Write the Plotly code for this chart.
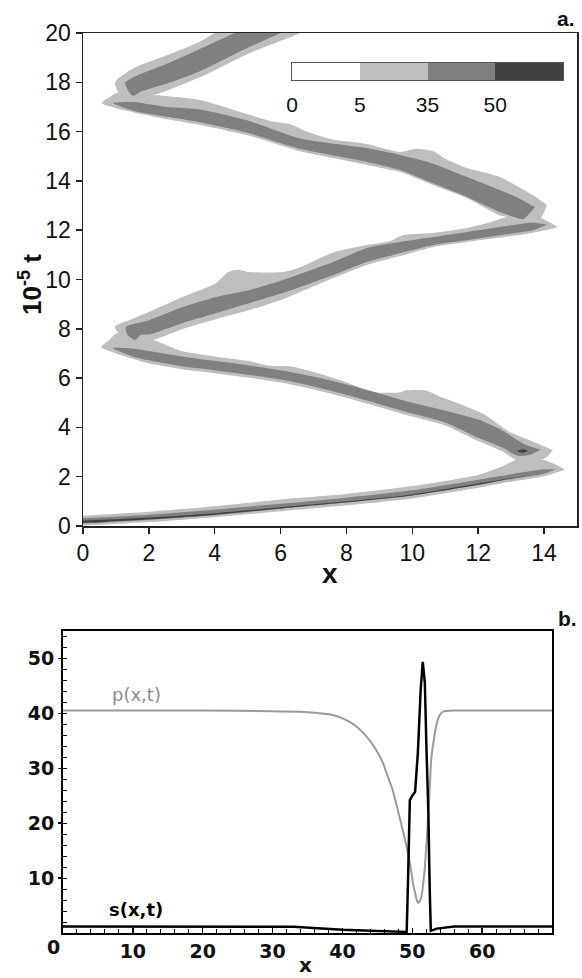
import plotly.graph_objects as go

W, H = 582, 978

# ---------------- Panel a: contour bands (x, 10^-5 t) ----------------
# each band is an outline: upper edge (x, t) and lower edge (x, t), left tip to right tip
band1_light_up = [(-0.5, 0.42), (0, 0.42), (2, 0.58), (4, 0.8), (6, 1.08), (8, 1.3), (10, 1.62), (12, 2.07),
                  (12.7, 2.4), (13.15, 2.68), (13.6, 2.72), (14.0, 2.68), (14.35, 2.5), (14.65, 2.28)]
band1_light_lo = [(-0.5, 0.02), (0, 0.02), (2, 0.16), (4, 0.36), (6, 0.6), (8, 0.84), (10, 1.12), (12, 1.55),
                  (13, 1.8), (14, 2.02), (14.65, 2.28)]
band1_dark_up = [(-0.5, 0.32), (0, 0.32), (2, 0.46), (4, 0.66), (6, 0.9), (8, 1.15), (10, 1.45), (12, 1.88),
                 (13, 2.1), (14, 2.3), (14.35, 2.3)]
band1_dark_lo = [(-0.5, 0.1), (0, 0.1), (2, 0.25), (4, 0.44), (6, 0.7), (8, 0.95), (10, 1.24), (12, 1.66),
                 (13, 1.9), (14, 2.12), (14.35, 2.3)]
band1_core_up = [(-0.5, 0.22), (0, 0.22), (2, 0.34), (4, 0.52), (6, 0.76), (8, 1.0), (10, 1.28), (12, 1.72), (13.5, 2.05)]
band1_core_lo = [(-0.5, 0.12), (0, 0.12), (2, 0.27), (4, 0.46), (6, 0.71), (8, 0.96), (10, 1.24), (12, 1.67), (13.5, 2.05)]

band2_light_up = [(0.55, 7.26), (0.8, 7.55), (1.05, 7.85), (1.5, 7.7), (2.13, 7.55), (3.0, 7.1), (4.0, 6.88),
                  (5.0, 6.7), (5.68, 6.5), (6.29, 6.48), (7.08, 6.22), (7.9, 5.88), (8.4, 5.62), (8.9, 5.42),
                  (9.6, 5.42), (9.8, 5.5), (10.4, 5.5), (10.93, 5.2), (11.63, 4.85), (12.15, 4.55),
                  (12.97, 3.8), (13.67, 3.42), (14.27, 3.08)]
band2_light_lo = [(0.55, 7.26), (1.0, 7.0), (2.0, 6.6), (3.0, 6.36), (4.0, 6.2), (5.0, 6.02), (6.0, 5.82),
                  (7.0, 5.54), (8.0, 5.2), (9.0, 4.82), (10.0, 4.44), (11.0, 4.08), (12.0, 3.45), (12.7, 3.05),
                  (13.15, 2.68), (13.6, 2.6), (14.05, 2.76), (14.27, 3.08)]
band2_dark_up = [(0.9, 7.22), (1.5, 7.2), (2.0, 7.1), (3.0, 6.88), (4.0, 6.7), (5.0, 6.52), (6.0, 6.32),
                 (7.0, 6.06), (8.0, 5.74), (9.0, 5.38), (10.0, 5.0), (11.0, 4.68), (12.0, 4.32), (12.7, 3.9),
                 (13.4, 3.32), (13.9, 3.1)]
band2_dark_lo = [(0.9, 7.22), (1.5, 6.88), (2.0, 6.72), (3.0, 6.48), (4.0, 6.32), (5.0, 6.14), (6.0, 5.94),
                 (7.0, 5.66), (8.0, 5.32), (9.0, 4.94), (10.0, 4.56), (11.0, 4.2), (12.0, 3.58), (12.7, 3.2),
                 (13.2, 2.85), (13.6, 2.9), (13.9, 3.1)]
band2_core_up = [(13.18, 3.04), (13.36, 3.11), (13.52, 3.04)]
band2_core_lo = [(13.18, 3.04), (13.36, 2.97), (13.52, 3.04)]

band3_light_up = [(0.97, 8.1), (1.5, 8.4), (2.03, 8.7), (3.04, 9.3), (4.05, 9.86), (4.4, 10.3), (4.7, 10.4),
                  (5.06, 10.3), (6.07, 10.3), (6.6, 10.5), (7.6, 11.1), (8.62, 11.4), (9.3, 11.55), (9.7, 11.8),
                  (10.1, 11.85), (10.63, 11.89), (11.66, 12.09), (12.3, 12.3), (12.88, 12.54), (13.5, 12.55),
                  (13.9, 12.5), (14.2, 12.3), (14.42, 12.13)]
band3_light_lo = [(0.97, 8.1), (1.05, 7.87), (1.5, 7.6), (2.13, 7.55), (3.04, 8.0), (4.05, 8.4), (5.06, 8.76),
                  (6.07, 9.2), (7.6, 10.06), (8.62, 10.59), (9.63, 10.95), (10.63, 11.32), (11.66, 11.52),
                  (12.66, 11.7), (13.67, 11.9), (14.2, 12.05), (14.42, 12.13)]
band3_dark_up = [(1.3, 8.07), (2.03, 8.36), (3.04, 8.88), (4.05, 9.29), (5.06, 9.57), (6.07, 9.98), (7.6, 10.71),
                 (8.62, 11.28), (9.63, 11.52), (10.63, 11.72), (11.66, 11.93), (12.66, 12.13), (13.67, 12.3),
                 (14.09, 12.22)]
band3_dark_lo = [(1.3, 8.07), (1.35, 7.75), (1.58, 7.55), (1.75, 7.75), (2.03, 7.78), (3.04, 8.24), (4.05, 8.64),
                 (5.06, 9.05), (6.07, 9.45), (7.6, 10.18), (8.62, 10.71), (9.63, 11.07), (10.63, 11.4),
                 (11.66, 11.6), (12.66, 11.8), (13.67, 12.0), (14.09, 12.22)]

band4_light_up = [(0.57, 17.16), (0.8, 17.4), (1.08, 17.6), (1.6, 17.52), (2.13, 17.48), (3.55, 17.28),
                  (5.0, 16.7), (5.8, 16.4), (6.3, 16.3), (6.8, 16.0), (7.5, 15.7), (8.62, 15.5), (9.63, 15.17),
                  (10.1, 15.3), (10.63, 15.2), (11.0, 14.9), (11.66, 14.52), (12.66, 14.16), (13.3, 13.7),
                  (13.8, 13.3), (14.09, 13.02)]
band4_light_lo = [(0.57, 17.16), (1.0, 16.95), (2.55, 16.5), (3.55, 16.27), (5.0, 15.85), (6.59, 15.2),
                  (8.62, 14.65), (9.63, 14.36), (10.63, 13.83), (11.66, 13.3), (12.66, 12.6), (12.88, 12.54),
                  (13.3, 12.4), (13.9, 12.5), (14.09, 13.02)]
band4_dark_up = [(0.91, 17.16), (1.52, 17.2), (2.55, 17.0), (3.55, 16.9), (5.0, 16.45), (6.59, 15.72),
                 (8.62, 15.33), (9.63, 15.05), (10.63, 14.7), (11.66, 14.16), (12.66, 13.63), (13.3, 13.25),
                 (13.73, 12.94)]
band4_dark_lo = [(0.91, 17.16), (1.52, 16.85), (2.55, 16.6), (3.55, 16.38), (5.0, 15.95), (6.59, 15.3),
                 (8.62, 14.77), (9.63, 14.44), (10.63, 13.9), (11.66, 13.35), (12.66, 12.74), (13.36, 12.45),
                 (13.5, 12.6), (13.73, 12.94)]

band5_light_up = [(0.97, 18.0), (1.5, 18.55), (2.55, 19.1), (3.55, 19.65), (4.0, 20.0), (4.8, 20.5)]
band5_light_lo = [(0.97, 18.0), (1.08, 17.6), (1.6, 17.5), (2.13, 17.48), (3.55, 18.2), (5.0, 19.15),
                  (6.6, 20.0), (7.5, 20.6)]
band5_dark_up = [(1.28, 17.97), (1.52, 18.2), (2.55, 18.75), (3.55, 19.35), (4.6, 20.0), (5.5, 20.6)]
band5_dark_lo = [(1.28, 17.97), (1.4, 17.6), (1.52, 17.45), (1.75, 17.62), (2.55, 17.95), (3.55, 18.45),
                 (5.0, 19.4), (6.0, 20.0), (7.0, 20.6)]

levels = [0, 5, 35, 50]
level_colors = ["#ffffff", "#bebebe", "#808080", "#404040"]

xa_ticks = [0, 2, 4, 6, 8, 10, 12, 14]
ya_ticks = [0, 2, 4, 6, 8, 10, 12, 14, 16, 18, 20]

# ---------------- Panel b: profiles ----------------
p_x = [0, 10, 20, 30, 34, 36, 38.6, 40, 41.1, 42.3, 43.5, 44.7, 45.8, 46.5, 47.2, 48.2, 48.7, 49.2, 49.9,
       50.1, 50.4, 50.6, 50.8, 51.05, 51.3, 51.55, 51.8, 52.05, 52.3, 52.5, 52.7, 53.0, 53.5, 53.9, 54.4, 56, 70]
p_y = [40.5, 40.5, 40.5, 40.4, 40.3, 40.1, 39.7, 39.1, 38.4, 37.3, 35.7, 33.6, 31.0, 28.5, 26.0, 21.0, 18.4,
       15.7, 10.9, 9.0, 7.3, 6.2, 5.5, 5.7, 6.6, 8.8, 12.0, 16.5, 21.8, 26.5, 31.5, 34.5, 38.2, 39.6, 40.3, 40.5, 40.5]
s_x = [0, 20, 33, 40, 45, 49.2, 49.4, 49.65, 50.0, 50.4, 50.8, 51.2, 51.5, 51.8, 52.0, 52.3, 52.5, 52.65,
       53.5, 54.9, 56, 70]
s_y = [1.2, 1.2, 1.15, 0.6, 0.4, 0.2, 10.0, 24.2, 25.0, 25.7, 32.8, 44.3, 49.4, 45.5, 35.0, 21.9, 7.8, 0.4,
       0.8, 1.1, 1.2, 1.2]
xb_ticks = [10, 20, 30, 40, 50, 60]
yb_ticks = [10, 20, 30, 40, 50]


def outline(up, lo):
    pts = list(up) + list(reversed(lo))
    return [p[0] for p in pts], [p[1] for p in pts]


fig = go.Figure()

bands = [
    (band1_light_up, band1_light_lo, 1), (band2_light_up, band2_light_lo, 1), (band3_light_up, band3_light_lo, 1),
    (band4_light_up, band4_light_lo, 1), (band5_light_up, band5_light_lo, 1),
    (band1_dark_up, band1_dark_lo, 2), (band2_dark_up, band2_dark_lo, 2), (band3_dark_up, band3_dark_lo, 2),
    (band4_dark_up, band4_dark_lo, 2), (band5_dark_up, band5_dark_lo, 2),
    (band1_core_up, band1_core_lo, 3), (band2_core_up, band2_core_lo, 3),
]
for up, lo, lev in bands:
    bx, by = outline(up, lo)
    fig.add_trace(go.Scatter(x=bx, y=by, mode="lines", fill="toself", fillcolor=level_colors[lev],
                             line=dict(width=0, color=level_colors[lev], shape="spline", smoothing=0.6),
                             hoverinfo="skip", showlegend=False, xaxis="x", yaxis="y"))

# legend bar (inset heatmap)
fig.add_trace(go.Heatmap(z=[[0, 1, 2, 3]], x=[0, 1, 2, 3], y=[0],
                         colorscale=[[0, level_colors[0]], [1 / 3, level_colors[1]], [2 / 3, level_colors[2]],
                                     [1, level_colors[3]]],
                         zmin=0, zmax=3, showscale=False, hoverinfo="skip", xaxis="x3", yaxis="y3"))

# panel b curves
fig.add_trace(go.Scatter(x=p_x, y=p_y, mode="lines", line=dict(color="#9a9a9a", width=2, shape="spline",
                                                                 smoothing=0.4),
                         showlegend=False, xaxis="x2", yaxis="y2"))
fig.add_trace(go.Scatter(x=s_x, y=s_y, mode="lines", line=dict(color="#000000", width=2.5),
                         showlegend=False, xaxis="x2", yaxis="y2"))

fa = dict(family="Liberation Sans, Arial, sans-serif", size=23, color="#111")
fb = dict(family="DejaVu Sans, sans-serif", size=19, color="#111", weight="bold")

fig.update_layout(
    width=W, height=H, margin=dict(l=0, r=0, t=0, b=0, autoexpand=False),
    paper_bgcolor="white", plot_bgcolor="white", showlegend=False,
    xaxis=dict(domain=[83 / W, 577 / W], range=[0, 15], tickvals=xa_ticks, ticks="outside", ticklen=6,
               tickwidth=1.5, tickcolor="#222", showline=True, linecolor="#222", linewidth=1.5, mirror=True,
               showgrid=False, zeroline=False, tickfont=fa, anchor="y", automargin=False),
    yaxis=dict(domain=[1 - 526 / H, 1 - 33 / H], range=[0, 20], tickvals=ya_ticks, ticks="outside", ticklen=6,
               tickwidth=1.5, tickcolor="#222", showline=True, linecolor="#222", linewidth=1.5, mirror=True,
               showgrid=False, zeroline=False, tickfont=fa, anchor="x", automargin=False),
    xaxis2=dict(domain=[63 / W, 552 / W], range=[0, 70], tickvals=xb_ticks, ticks="inside", ticklen=5,
                tickwidth=1.5, tickcolor="#000", showline=True, linecolor="#000", linewidth=2, mirror=True,
                showgrid=False, zeroline=False, tickfont=fb, anchor="y2", automargin=False,
                minor=dict(ticks="inside", dtick=2, ticklen=4, tickwidth=1, tickcolor="#000")),
    yaxis2=dict(domain=[1 - 933 / H, 1 - 631 / H], range=[0, 55], tickvals=yb_ticks, ticks="outside", ticklen=3,
                tickwidth=1.5, tickcolor="#000", showline=True, linecolor="#000", linewidth=2, mirror=True,
                showgrid=False, zeroline=False, tickfont=fb, anchor="x2", automargin=False,
                minor=dict(ticks="inside", dtick=2, ticklen=4, tickwidth=1, tickcolor="#000")),
    xaxis3=dict(domain=[292 / W, 563 / W], range=[-0.5, 3.5], tickvals=[-0.5, 0.5, 1.5, 2.5],
                ticktext=[str(v) for v in levels], ticks="", showline=True, linecolor="#555", linewidth=1,
                mirror=True, showgrid=False, zeroline=False, tickfont=dict(fa, size=21), anchor="y3",
                ticklabelstandoff=6, automargin=False),
    yaxis3=dict(domain=[1 - 80 / H, 1 - 63 / H], range=[-0.5, 0.5], showticklabels=False, ticks="",
                showline=True, linecolor="#555", linewidth=1, mirror=True, showgrid=False, zeroline=False,
                anchor="x3", automargin=False),
)

ann = [
    dict(text="<b>a.</b>", x=566 / W, y=1 - 18 / H, font=dict(family="Liberation Sans, Arial", size=21, color="#111")),
    dict(text="<b>b.</b>", x=567 / W, y=1 - 618 / H, font=dict(family="Liberation Sans, Arial", size=21, color="#111")),
    dict(text="<b>x</b>", x=330 / W, y=1 - 573 / H, font=dict(family="Liberation Sans, Arial", size=28, color="#111")),
    dict(text="<b>10<sup>-5</sup> t</b>", x=30 / W, y=1 - 285 / H, textangle=-90,
         font=dict(family="Liberation Sans, Arial", size=26, color="#111")),
    dict(text="<b>x</b>", x=305 / W, y=1 - 965 / H, font=dict(family="DejaVu Sans", size=20, color="#111")),
    dict(text="<b>0</b>", x=53 / W, y=1 - 947 / H, font=dict(family="DejaVu Sans", size=19, color="#111")),
]
for a in ann:
    fig.add_annotation(xref="paper", yref="paper", showarrow=False, xanchor="center", yanchor="middle", **a)

fig.add_annotation(text="p(x,t)", x=10.5, y=43.4, xref="x2", yref="y2", showarrow=False,
                   font=dict(family="DejaVu Sans", size=18, color="#8a8a8a"))
fig.add_annotation(text="<b>s(x,t)</b>", x=10.4, y=4.3, xref="x2", yref="y2", showarrow=False,
                   font=dict(family="DejaVu Sans", size=18, color="#000"))

fig.write_html("out.html", config={"displayModeBar": False, "staticPlot": True},
               post_script="document.body.style.margin='0';document.body.style.padding='0';"
                           "document.body.style.overflow='hidden';")
